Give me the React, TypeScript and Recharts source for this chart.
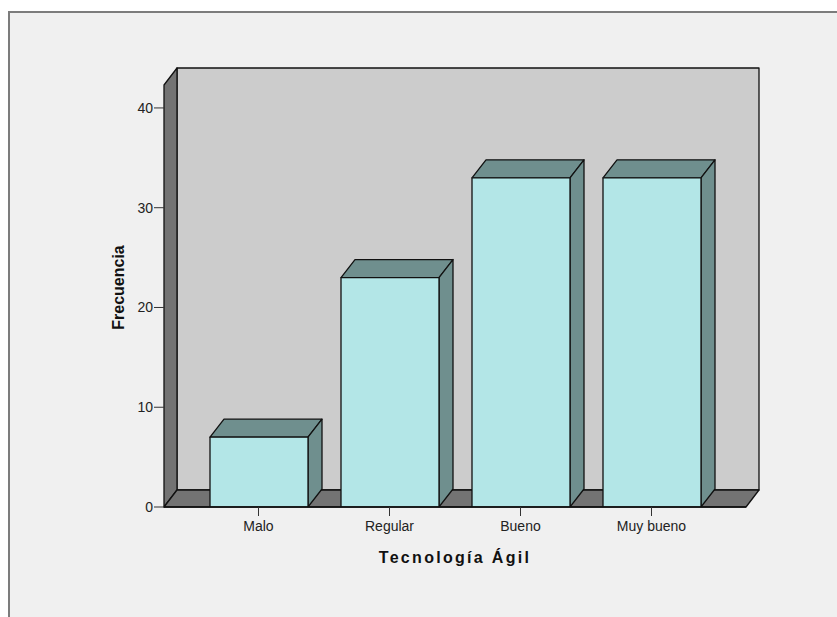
import React from 'react';
import { BarChart, Bar, XAxis, YAxis, ReferenceArea, Label } from 'recharts';

const categories = ['Malo', 'Regular', 'Bueno', 'Muy bueno'];
const frecuencias = [7, 23, 33, 33];
const yTicks = [0, 10, 20, 30, 40];
const Y_MAX = 42.3;

const FONT = '"Liberation Sans", Arial, sans-serif';

// category axis padding; the walls span the padded range too
const X_PAD = 29;

// 3D depth of the walls and the bars (px)
const WALL_DX = 13;
const WALL_DY = 17;
const BAR_DX = 14;
const BAR_DY = 18;

const data = categories.map((c, i) => ({ categoria: c, frecuencia: frecuencias[i] }));

// back wall, left wall and floor, built from the plot rectangle
function Walls(props: any) {
  const x = props.x - X_PAD;
  const width = props.width + 2 * X_PAD;
  const { y, height } = props;
  const x2 = x + width;
  const y2 = y + height;
  const stroke = { stroke: '#111', strokeWidth: 1.3, strokeLinejoin: 'round' as const };
  return (
    <g>
      <rect x={x + WALL_DX} y={y - WALL_DY} width={width} height={height} fill="#cccccc" {...stroke} />
      <polygon
        points={`${x},${y} ${x + WALL_DX},${y - WALL_DY} ${x + WALL_DX},${y2 - WALL_DY} ${x},${y2}`}
        fill="#737373" {...stroke} />
      <polygon
        points={`${x},${y2} ${x + WALL_DX},${y2 - WALL_DY} ${x2 + WALL_DX},${y2 - WALL_DY} ${x2},${y2}`}
        fill="#737373" {...stroke} />
    </g>
  );
}

function Bar3D(props: any) {
  const { x, y, width, height } = props;
  if (height <= 0) return null;
  const r = x + width;
  const b = y + height;
  const stroke = { stroke: '#111', strokeWidth: 1.3, strokeLinejoin: 'round' as const };
  return (
    <g>
      <polygon points={`${x},${y} ${x + BAR_DX},${y - BAR_DY} ${r + BAR_DX},${y - BAR_DY} ${r},${y}`} fill="#6f8f8e" {...stroke} />
      <polygon points={`${r},${y} ${r + BAR_DX},${y - BAR_DY} ${r + BAR_DX},${b - BAR_DY} ${r},${b}`} fill="#6f8f8e" {...stroke} />
      <rect x={x} y={y} width={width} height={height} fill="#b3e6e7" {...stroke} />
    </g>
  );
}

export default function App() {
  return (
    <div style={{ position: 'absolute', left: 0, top: 0, width: 837, height: 617, background: '#fff', overflow: 'hidden' }}>
      <div style={{
        position: 'absolute', left: 8, top: 11, width: 840, height: 620,
        background: '#f0f0f0', borderTop: '2px solid #7c7c7c', borderLeft: '2px solid #7c7c7c',
      }} />
      <div style={{ position: 'absolute', left: 0, top: 0 }}>
        <BarChart width={837} height={617} data={data}
          margin={{ top: 85, right: 91, bottom: 80, left: 104 }} barSize={98}>
          <ReferenceArea y1={0} y2={Y_MAX} shape={<Walls />} ifOverflow="visible" />
          <XAxis dataKey="categoria" height={30} padding={{ left: X_PAD, right: X_PAD }}
            axisLine={{ stroke: '#111', strokeWidth: 1.3 }} tickLine={{ stroke: '#333' }}
            tickSize={9} tickMargin={5}
            tick={{ fontSize: 14, fill: '#222', fontFamily: FONT }}>
            <Label content={(p: any) => {
              const vb = p.viewBox;
              return (
                <text x={vb.x + vb.width / 2} y={563} textAnchor="middle"
                  style={{ fontFamily: FONT, fontSize: 16, fontWeight: 700, letterSpacing: 2.3, fill: '#111' }}>
                  Tecnología Ágil
                </text>
              );
            }} />
          </XAxis>
          <YAxis width={60} domain={[0, Y_MAX]} ticks={yTicks} allowDataOverflow
            axisLine={false} tickLine={{ stroke: '#333' }} tickSize={10} tickMargin={1}
            tick={{ fontSize: 14, fill: '#222', fontFamily: FONT }}>
            <Label content={(p: any) => {
              const vb = p.viewBox;
              const cx = vb.x + 14;
              const cy = vb.y + vb.height / 2 - WALL_DY / 2;
              return (
                <text x={cx} y={cy} textAnchor="middle" dominantBaseline="central"
                  transform={`rotate(-90, ${cx}, ${cy})`}
                  style={{ fontFamily: FONT, fontSize: 16, fontWeight: 700, fill: '#111' }}>
                  Frecuencia
                </text>
              );
            }} />
          </YAxis>
          <Bar dataKey="frecuencia" shape={<Bar3D />} isAnimationActive={false} />
        </BarChart>
      </div>
    </div>
  );
}
